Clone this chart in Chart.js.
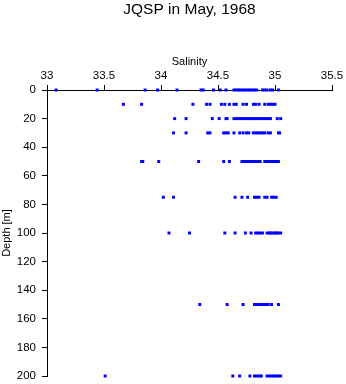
<!DOCTYPE html>
<html><head><meta charset="utf-8">
<script src="https://cdn.jsdelivr.net/npm/chart.js@4/dist/chart.umd.min.js"></script>
<style>html,body{margin:0;padding:0;background:#fff;}canvas{display:block;}</style>
</head><body>
<canvas id="c" width="346" height="384"></canvas>
<script>
// Depth levels (m) and salinity readings at each level
const depths = [0, 10, 20, 30, 50, 75, 100, 150, 200];
const sal0 = [33.08, 33.44, 33.86, 33.97, 34.14, 34.35, 34.37, 34.46, 34.52, 34.57, 34.64, 34.66, 34.68, 34.70, 34.72, 34.74, 34.76, 34.78, 34.80, 34.82, 34.84, 34.89, 34.91, 34.93, 34.96, 34.98, 35.03];
const sal10 = [33.67, 33.83, 34.28, 34.40, 34.43, 34.53, 34.56, 34.60, 34.64, 34.66, 34.72, 34.75, 34.81, 34.83, 34.86, 34.91, 34.94, 34.96, 34.98, 35.00];
const sal20 = [34.12, 34.22, 34.45, 34.51, 34.57, 34.58, 34.64, 34.66, 34.68, 34.70, 34.72, 34.74, 34.76, 34.78, 34.80, 34.82, 34.84, 34.86, 34.88, 34.90, 34.92, 34.94, 34.96, 35.02, 35.05];
const sal30 = [34.11, 34.22, 34.41, 34.43, 34.55, 34.57, 34.59, 34.64, 34.69, 34.72, 34.75, 34.77, 34.81, 34.83, 34.85, 34.87, 34.89, 34.91, 34.94, 34.96, 35.03, 35.04];
const sal50 = [33.83, 33.84, 33.98, 34.33, 34.55, 34.60, 34.71, 34.73, 34.75, 34.77, 34.79, 34.81, 34.83, 34.85, 34.87, 34.91, 34.93, 34.95, 34.97, 34.99, 35.01, 35.03];
const sal75 = [34.02, 34.11, 34.65, 34.71, 34.76, 34.82, 34.84, 34.86, 34.91, 34.93, 34.97, 34.99, 35.01];
const sal100 = [34.07, 34.25, 34.56, 34.65, 34.74, 34.79, 34.83, 34.85, 34.87, 34.89, 34.93, 34.95, 34.96, 34.98, 35.00, 35.01, 35.03, 35.05];
const sal150 = [34.34, 34.58, 34.72, 34.82, 34.84, 34.86, 34.88, 34.90, 34.92, 34.94, 34.97, 35.03];
const sal200 = [33.51, 34.63, 34.69, 34.78, 34.82, 34.84, 34.86, 34.88, 34.93, 34.95, 34.97, 34.99, 35.01, 35.03, 35.05];
const salinityRows = [sal0, sal10, sal20, sal30, sal50, sal75, sal100, sal150, sal200];

const xTicks = [33, 33.5, 34, 34.5, 35, 35.5];
const yTicks = [0, 20, 40, 60, 80, 100, 120, 140, 160, 180, 200];

const points = [];
depths.forEach((d, i) => salinityRows[i].forEach(s => points.push({x: s, y: d})));

const FAM = '"Liberation Sans", Arial, Helvetica, sans-serif';

new Chart(document.getElementById('c'), {
  type: 'scatter',
  data: {datasets: [{
    data: points,
    pointStyle: 'rect',
    pointRadius: 2.1,
    pointHoverRadius: 2.1,
    backgroundColor: '#0000ff',
    borderWidth: 0,
    clip: false
  }]},
  options: {
    responsive: false,
    animation: false,
    devicePixelRatio: 1,
    events: [],
    layout: {padding: {left: 0, right: 14, top: 0, bottom: 8}},
    plugins: {
      legend: {display: false},
      tooltip: {enabled: false},
      title: {
        display: true, fullSize: false,
        text: 'JQSP in May, 1968', color: '#000',
        font: {family: FAM, size: 15.5, weight: 'normal', lineHeight: 1.2},
        padding: {top: 0.4, bottom: 0}
      }
    },
    scales: {
      x: {
        type: 'linear', position: 'top', min: 33, max: 35.5,
        afterBuildTicks: s => { s.ticks = xTicks.map(v => ({value: v})); },
        afterFit: s => { s.height = 71; s.paddingTop = 0; s.paddingBottom = 0; },
        grid: {drawOnChartArea: false, drawTicks: true, tickLength: 5, color: '#000', lineWidth: 1},
        border: {display: true, color: '#000', width: 1},
        ticks: {color: '#000', font: {family: FAM, size: 11.5}, padding: 2, maxRotation: 0, callback: v => String(v)},
        title: {display: true, text: 'Salinity', color: '#000', font: {family: FAM, size: 11}, padding: {top: 36, bottom: 0}}
      },
      y: {
        type: 'linear', position: 'left', reverse: true, min: 0, max: 200,
        afterBuildTicks: s => { s.ticks = yTicks.map(v => ({value: v})); },
        afterFit: s => { s.width = 47; s.paddingTop = 0; s.paddingBottom = 0; },
        grid: {drawOnChartArea: false, drawTicks: true, tickLength: 5, color: '#000', lineWidth: 1},
        border: {display: true, color: '#000', width: 1},
        ticks: {color: '#000', font: {family: FAM, size: 11.5}, padding: 6, callback: v => String(v)},
        title: {display: true, text: 'Depth [m]', color: '#000', font: {family: FAM, size: 11}, padding: {top: 0, bottom: 0}}
      }
    }
  }
});
</script>
</body></html>
